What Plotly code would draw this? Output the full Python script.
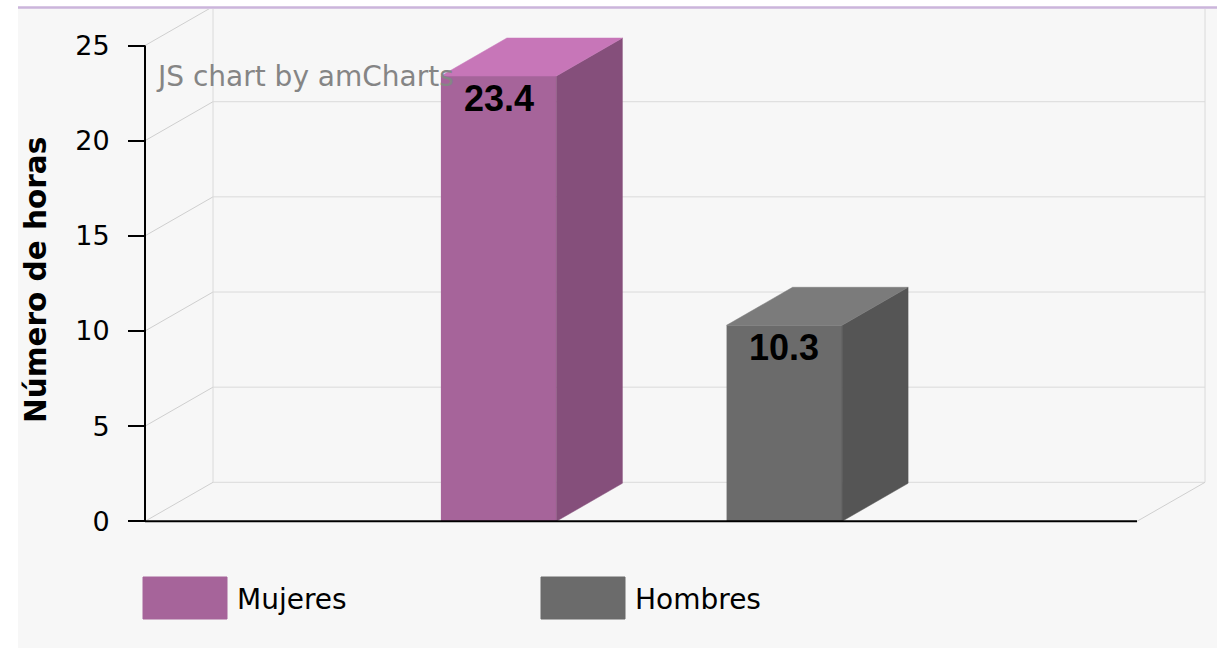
import plotly.graph_objects as go

# ---------------- data ----------------
categories = [0]                      # single category slot
series_names = ["Mujeres", "Hombres"]
series_values = [23.4, 10.3]
front_colors = ["#A6649A", "#6B6B6B"]
side_colors = ["#854F7B", "#555555"]
top_colors = ["#C776B8", "#7B7B7B"]
y_ticks = [0, 5, 10, 15, 20, 25]
y_tick_labels = ["0", "5", "10", "15", "20", "25"]
y_title = "Número de horas"
watermark = "JS chart by amCharts"

# ---------------- geometry (layout) ----------------
W, H = 1217, 648
PLOT_L, PLOT_R, PLOT_T, PLOT_B = 135, 1208, 9, 528   # plot area in pixels
FRONT_X = 145          # pixel of the front value axis
ZERO_Y = 521.3         # pixel of value 0
PX_PER_Y = 19.03       # pixels per value unit
PX_PER_X = 992.0       # pixels per category slot

PW = PLOT_R - PLOT_L
PH = PLOT_B - PLOT_T
X0 = -0.5
x_range = [X0 - (FRONT_X - PLOT_L) / PX_PER_X, X0 + (PLOT_R - FRONT_X) / PX_PER_X]
y_range = [-(PLOT_B - ZERO_Y) / PX_PER_Y, (ZERO_Y - PLOT_T) / PX_PER_Y]

bar_dx, bar_dy = 66 / PX_PER_X, 38 / PX_PER_Y
wall_dx, wall_dy = 68 / PX_PER_X, 39 / PX_PER_Y
bar_offsets = [-0.1435, 0.1445]
bar_w = 115.5 / PX_PER_X


def paper_x(px):
    return (px - PLOT_L) / PW


def paper_y(py):
    return (PLOT_B - py) / PH


fig = go.Figure()

# front faces
for i, name in enumerate(series_names):
    xc = categories[0] + bar_offsets[i]
    fig.add_trace(go.Bar(x=[xc], y=[series_values[i]], width=[bar_w],
                         marker=dict(color=front_colors[i], line=dict(width=0)),
                         name=name, showlegend=False, hoverinfo="skip"))

# side and top faces
for i, name in enumerate(series_names):
    xc = categories[0] + bar_offsets[i]
    v = series_values[i]
    xl, xr = xc - bar_w / 2, xc + bar_w / 2
    fig.add_trace(go.Scatter(
        x=[xr, xr + bar_dx, xr + bar_dx, xr, xr],
        y=[0, bar_dy, v + bar_dy, v, 0],
        fill="toself", fillcolor=side_colors[i], mode="lines",
        line=dict(width=0.5, color=side_colors[i]), showlegend=False, hoverinfo="skip"))
    fig.add_trace(go.Scatter(
        x=[xl, xl + bar_dx, xr + bar_dx, xr, xl],
        y=[v, v + bar_dy, v + bar_dy, v, v],
        fill="toself", fillcolor=top_colors[i], mode="lines",
        line=dict(width=0.5, color=top_colors[i]), showlegend=False, hoverinfo="skip"))

shapes = []
# background pieces
shapes.append(dict(type="rect", xref="paper", yref="paper", layer="below",
                   x0=paper_x(0), x1=paper_x(W), y0=paper_y(0), y1=paper_y(7),
                   fillcolor="white", line=dict(width=0)))
shapes.append(dict(type="rect", xref="paper", yref="paper", layer="below",
                   x0=paper_x(0), x1=paper_x(18), y0=paper_y(0), y1=paper_y(H),
                   fillcolor="white", line=dict(width=0)))
shapes.append(dict(type="line", xref="paper", yref="paper", layer="above",
                   x0=paper_x(18), x1=paper_x(W), y0=paper_y(7.5), y1=paper_y(7.5),
                   line=dict(color="#CBB5DB", width=2.5)))

# back wall grid + diagonals
grid_col = "#DADADA"
diag_col = "#CFCFCF"
for v in y_ticks:
    shapes.append(dict(type="line", xref="x", yref="y", layer="below",
                       x0=X0 + wall_dx, x1=X0 + 1 + wall_dx, y0=v + wall_dy, y1=v + wall_dy,
                       line=dict(color=grid_col, width=1)))
    shapes.append(dict(type="line", xref="x", yref="y", layer="below",
                       x0=X0, x1=X0 + wall_dx, y0=v, y1=v + wall_dy,
                       line=dict(color=diag_col, width=1)))
for xe in [X0 + wall_dx, X0 + 1 + wall_dx]:
    shapes.append(dict(type="line", xref="x", yref="y", layer="below",
                       x0=xe, x1=xe, y0=wall_dy, y1=y_range[1] + 5,
                       line=dict(color=grid_col, width=1)))
shapes.append(dict(type="line", xref="x", yref="y", layer="below",
                   x0=X0 + 1, x1=X0 + 1 + wall_dx, y0=0, y1=wall_dy,
                   line=dict(color=diag_col, width=1)))

# front axes
shapes.append(dict(type="line", xref="x", yref="y", layer="above",
                   x0=X0, x1=X0, y0=0, y1=y_ticks[-1],
                   line=dict(color="black", width=2)))
shapes.append(dict(type="line", xref="x", yref="y", layer="above",
                   x0=X0, x1=X0 + 1, y0=0, y1=0,
                   line=dict(color="black", width=2)))

# legend (manual, large swatches)
legend_x = [143, 541]
for i, name in enumerate(series_names):
    shapes.append(dict(type="rect", xref="paper", yref="paper", layer="above",
                       x0=paper_x(legend_x[i]), x1=paper_x(legend_x[i] + 84),
                       y0=paper_y(577), y1=paper_y(619),
                       fillcolor=front_colors[i], line=dict(color=front_colors[i], width=1)))

annotations = []
for i, name in enumerate(series_names):
    annotations.append(dict(xref="paper", yref="paper", x=paper_x(legend_x[i] + 92), y=paper_y(599),
                            text=name, showarrow=False, xanchor="left", yanchor="middle",
                            font=dict(family="Verdana, DejaVu Sans", size=28, color="#000")))
# value labels
for i, name in enumerate(series_names):
    annotations.append(dict(xref="x", yref="y", x=categories[0] + bar_offsets[i], y=series_values[i],
                            text=f"<b>{series_values[i]:.1f}</b>", showarrow=False,
                            xanchor="center", yanchor="middle", yshift=-22,
                            font=dict(family="Arial, Liberation Sans", size=36, color="#000")))
# y title
annotations.append(dict(xref="paper", yref="paper", x=paper_x(36), y=paper_y(280),
                        text=f"<b>{y_title}</b>", showarrow=False, textangle=-90,
                        xanchor="center", yanchor="middle",
                        font=dict(family="Verdana, DejaVu Sans", size=29.5, color="#000")))
# watermark
annotations.append(dict(xref="paper", yref="paper", x=paper_x(154), y=paper_y(77),
                        text=watermark, showarrow=False, xanchor="left", yanchor="middle",
                        font=dict(family="Verdana, DejaVu Sans", size=28, color="#858585")))

fig.update_layout(
    width=W, height=H,
    margin=dict(l=PLOT_L, r=W - PLOT_R, t=PLOT_T, b=H - PLOT_B, pad=0),
    paper_bgcolor="#F7F7F7", plot_bgcolor="rgba(0,0,0,0)",
    showlegend=False,
    shapes=shapes, annotations=annotations,
    xaxis=dict(range=x_range, showgrid=False, zeroline=False, showticklabels=False,
               showline=False, ticks="", fixedrange=True),
    yaxis=dict(range=y_range, showgrid=False, zeroline=False, showline=False,
               anchor="free", position=(FRONT_X - PLOT_L) / PW,
               tickmode="array", tickvals=y_ticks, ticktext=y_tick_labels,
               ticks="outside", ticklen=17, tickwidth=2, tickcolor="black",
               ticklabelstandoff=13,
               tickfont=dict(family="Verdana, DejaVu Sans", size=27, color="#000"),
               fixedrange=True),
)

fig.write_html("out.html")
